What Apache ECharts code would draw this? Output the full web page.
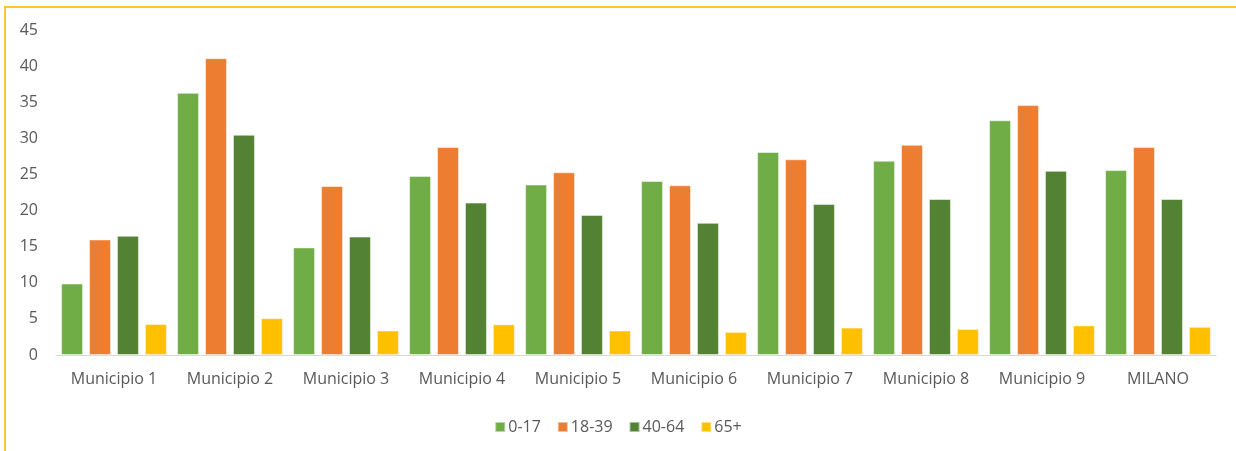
<!DOCTYPE html>
<html>
<head>
<meta charset="utf-8">
<script src="https://cdn.jsdelivr.net/npm/echarts@6/dist/echarts.min.js"></script>
<style>
html,body{margin:0;padding:0;background:#fff;}
#chart{width:1236px;height:451px;}
</style>
</head>
<body>
<div id="chart"></div>
<script>
var categories = ['Municipio 1','Municipio 2','Municipio 3','Municipio 4','Municipio 5','Municipio 6','Municipio 7','Municipio 8','Municipio 9','MILANO'];
var seriesNames = ['0-17','18-39','40-64','65+'];
var age0_17  = [9.9, 36.3, 14.9, 24.8, 23.6, 24.1, 28.1, 26.9, 32.5, 25.6];
var age18_39 = [16.0, 41.1, 23.4, 28.8, 25.3, 23.5, 27.1, 29.1, 34.6, 28.8];
var age40_64 = [16.5, 30.5, 16.4, 21.1, 19.4, 18.3, 20.9, 21.6, 25.5, 21.6];
var age65    = [4.3, 5.1, 3.4, 4.25, 3.4, 3.2, 3.8, 3.6, 4.1, 3.9];
var colors = ['#70AD47','#ED7D31','#548235','#FFC000'];

var chart = echarts.init(document.getElementById('chart'));
var font = '"Open Sans", sans-serif';

function bar(name, data, color){
	return {
		name: name,
		type: 'bar',
		barWidth: 22,
		barGap: '27%',
		data: data,
		itemStyle: {
			color: color,
			borderColor: 'rgba(255,255,255,0.5)',
			borderWidth: 1
		}
	};
}

chart.setOption({
	animation: false,
	color: colors,
	graphic: [{
		type: 'rect',
		shape: {x: 5, y: 7, width: 1260, height: 470},
		style: {fill: 'none', stroke: '#FFC82A', lineWidth: 2},
		silent: true
	}],
	grid: {left: 56, right: 20, top: 30, bottom: 96},
	legend: {
		data: seriesNames,
		left: 'center',
		top: 414,
		itemWidth: 10,
		itemHeight: 10,
		itemGap: 16,
		icon: 'rect',
		textStyle: {color: '#595959', fontSize: 16, fontFamily: font, padding: [0,0,0,-2]}
	},
	xAxis: {
		type: 'category',
		data: categories,
		axisLine: {lineStyle: {color: '#D9D9D9', width: 1}},
		axisTick: {show: false},
		axisLabel: {color: '#595959', fontSize: 16, fontFamily: font, margin: 16, interval: 0}
	},
	yAxis: {
		type: 'value',
		min: 0,
		max: 45,
		interval: 5,
		axisLine: {show: false},
		axisTick: {show: false},
		splitLine: {show: false},
		axisLabel: {color: '#595959', fontSize: 16, fontFamily: font, margin: 18}
	},
	series: [
		bar(seriesNames[0], age0_17, colors[0]),
		bar(seriesNames[1], age18_39, colors[1]),
		bar(seriesNames[2], age40_64, colors[2]),
		bar(seriesNames[3], age65, colors[3])
	]
});
</script>
</body>
</html>
